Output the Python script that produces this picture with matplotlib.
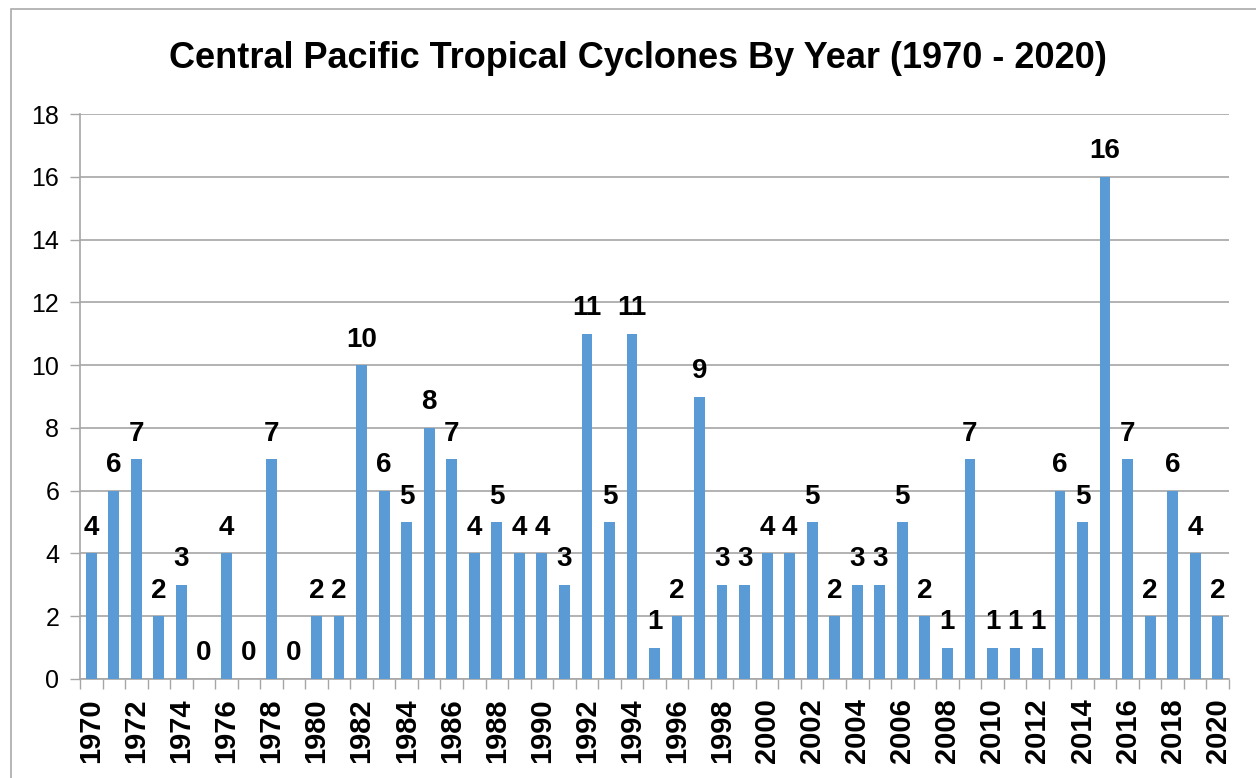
import matplotlib
matplotlib.use("Agg")
import matplotlib.pyplot as plt
from matplotlib.patches import Rectangle

years = list(range(1970, 2021))
counts = [4, 6, 7, 2, 3, 0, 4, 0, 7, 0,
          2, 2, 10, 6, 5, 8, 7, 4, 5, 4,
          4, 3, 11, 5, 11, 1, 2, 9, 3, 3,
          4, 4, 5, 2, 3, 3, 5, 2, 1, 7,
          1, 1, 1, 6, 5, 16, 7, 2, 6, 4,
          2]
tick_labels = [str(y) if y % 2 == 0 else "" for y in years]
title = "Central Pacific Tropical Cyclones By Year (1970 - 2020)"

plt.rcParams['font.family'] = ['Liberation Sans', 'DejaVu Sans']

W, H = 1256, 778
fig = plt.figure(figsize=(W / 100, H / 100), dpi=100)
fig.patches.append(Rectangle((11 / W, -0.1), 1.2, (H - 9) / H + 0.1,
                             transform=fig.transFigure, fill=False,
                             edgecolor='#AAAAAA', linewidth=1.2))

ax = fig.add_axes([80 / W, 1 - 679 / H, (1229 - 80) / W, (679 - 114) / H])
x = list(range(len(years)))
ax.bar(x, counts, width=0.48, color='#5B9BD5', zorder=3)
ax.set_xlim(-0.5, len(years) - 0.5)
ax.set_ylim(0, 18)
ax.set_yticks(range(0, 19, 2))
ax.tick_params(axis='y', labelsize=18, length=7, color='#A6A6A6', width=1, pad=8)
ax.yaxis.grid(True, color='#A6A6A6', linewidth=1.2, zorder=0)

ax.set_xticks(x)
ax.set_xticklabels(tick_labels, rotation=90, fontweight='bold', fontsize=21)
ax.set_xticks([i - 0.5 for i in range(len(years) + 1)], minor=True)
ax.tick_params(axis='x', which='major', length=0, pad=14)
ax.tick_params(axis='x', which='minor', length=7, color='#A6A6A6', width=1)

for s in ['top', 'right']:
    ax.spines[s].set_visible(False)
for s in ['left', 'bottom']:
    ax.spines[s].set_color('#A6A6A6')
    ax.spines[s].set_linewidth(1.2)

for xi, c in zip(x, counts):
    ax.annotate(str(c), (xi, c), xytext=(0, 9), textcoords='offset points',
                ha='center', va='bottom', fontsize=20, fontweight='bold', zorder=4)

fig.text(638 / W, 1 - 58 / H, title, ha='center', va='center',
         fontsize=26, fontweight='bold')

fig.savefig('out.png', dpi=100)
